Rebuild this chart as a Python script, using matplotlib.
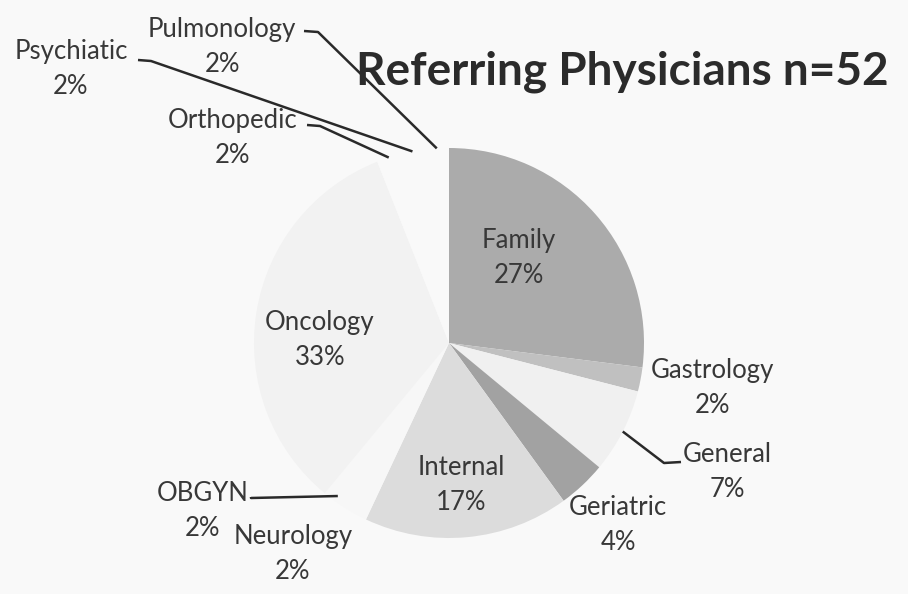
import numpy as np
import matplotlib.pyplot as plt

categories = ["Family", "Gastrology", "General", "Geriatric", "Internal", "Neurology",
              "OBGYN", "Oncology", "Orthopedic", "Psychiatic", "Pulmonology"]
shares = [27, 2, 7, 4, 17, 2, 2, 33, 2, 2, 2]
colors = ["#ababab", "#c0c0c0", "#f0f0f0", "#a2a2a2", "#dcdcdc", "#f7f7f7",
          "#f7f7f7", "#f2f2f2", "#f9f9f9", "#f9f9f9", "#f9f9f9"]

W, H = 908, 594

# label block centres, in picture pixels (y from top)
label_pos = {
    "Family": (519, 258), "Gastrology": (712, 388), "General": (727, 472),
    "Geriatric": (618, 525), "Internal": (461, 485), "Neurology": (293, 554),
    "OBGYN": (203, 511), "Oncology": (320, 340), "Orthopedic": (233, 138),
    "Psychiatic": (71, 69), "Pulmonology": (222, 47),
}
# leader line starts next to the label text, with the short flat tail length
leaders = {
    "Pulmonology": ((304, 31), 14), "Psychiatic": ((138, 60), 13),
    "Orthopedic": ((307, 125), 13), "General": ((681, 462), -17),
    "OBGYN": ((251, 497), 0),
}

fig = plt.figure(figsize=(W / 100, H / 100), dpi=100)
fig.patch.set_facecolor("#f9f9f9")
ax = fig.add_axes([0, 0, 1, 1])
cx, cy, r = 449, H - 343, 195

wedges, _ = ax.pie(shares, colors=colors, startangle=90, counterclock=False,
                   center=(cx, cy), radius=r, frame=True,
                   wedgeprops=dict(linewidth=0))
ax.set_xlim(0, W)
ax.set_ylim(0, H)
ax.set_aspect("equal")
ax.axis("off")

font = "Lato"
for name, val in zip(categories, shares):
    x, y = label_pos[name]
    ax.text(x, H - y, f"{name}\n{val}%", ha="center", va="center", fontsize=18.5,
            family=font, color="#383838", linespacing=1.5)

for w, name in zip(wedges, categories):
    if name not in leaders:
        continue
    ang = np.deg2rad((w.theta1 + w.theta2) / 2)
    rr = 0.97 if name == "OBGYN" else 1.0
    px, py = cx + r * rr * np.cos(ang), cy + r * rr * np.sin(ang)
    (sx, sy), tail = leaders[name]
    ax.plot([sx, sx + tail, px], [H - sy, H - sy - 1, py], color="#2a2a2a", lw=1.8,
            solid_capstyle="butt")

ax.text(622, H - 72, "Referring Physicians n=52", ha="center", va="center",
        fontsize=33, fontweight="bold", family=font, color="#2b2b2b")

fig.savefig("out.png", dpi=100, facecolor=fig.get_facecolor())
